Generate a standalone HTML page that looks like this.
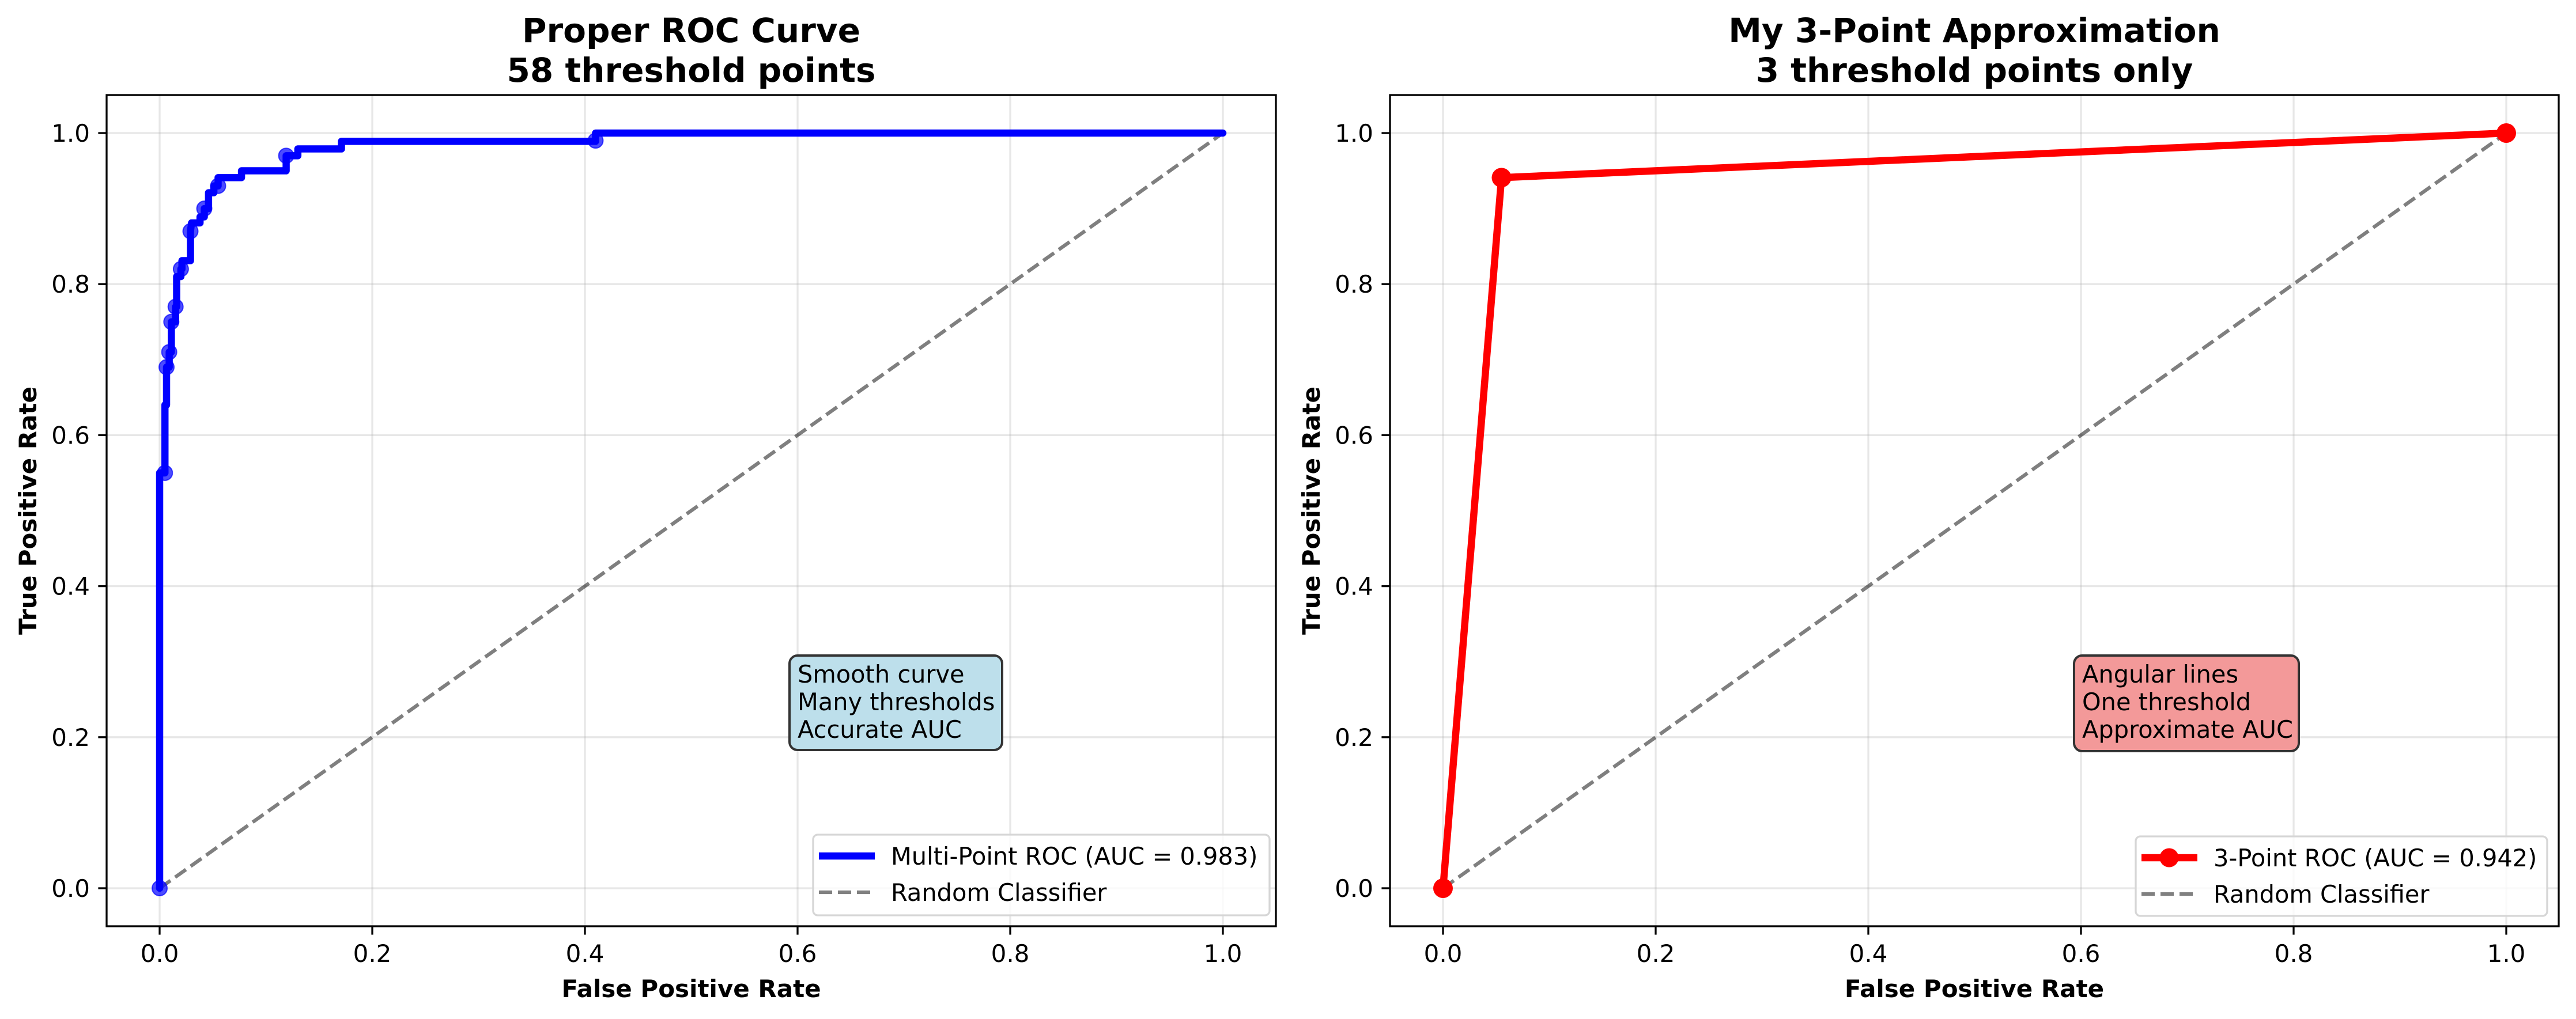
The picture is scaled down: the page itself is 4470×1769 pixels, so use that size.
<!DOCTYPE html>
<html><head><meta charset="utf-8">
<style>
html,body{margin:0;padding:0;background:#fff;}
svg{display:block;font-family:"DejaVu Sans","Liberation Sans",sans-serif;}
</style></head>
<body>
<svg id="fig" width="4470" height="1769" viewBox="0 0 4470 1769" xmlns="http://www.w3.org/2000/svg"></svg>
<script>
// ---- data ----
const xTicks = [0.0, 0.2, 0.4, 0.6, 0.8, 1.0];
const yTicks = [0.0, 0.2, 0.4, 0.6, 0.8, 1.0];
const tickLabels = ["0.0","0.2","0.4","0.6","0.8","1.0"];
const multiFpr = [0,0,0.005,0.005,0.0065,0.0065,0.009,0.009,0.011,0.011,0.015,0.015,0.016,0.016,0.020,0.020,0.021,0.021,0.029,0.029,0.030,0.038,0.038,0.042,0.042,0.046,0.046,0.051,0.051,0.055,0.055,0.077,0.077,0.119,0.119,0.130,0.130,0.171,0.171,0.41,0.41,1.0];
const multiTpr = [0,0.55,0.55,0.64,0.64,0.69,0.69,0.71,0.71,0.75,0.75,0.77,0.77,0.81,0.81,0.82,0.82,0.831,0.831,0.870,0.881,0.881,0.889,0.889,0.90,0.90,0.921,0.921,0.93,0.93,0.941,0.941,0.95,0.95,0.97,0.97,0.979,0.979,0.989,0.989,1.0,1.0];
const markFpr = [0,0.005,0.0065,0.009,0.011,0.015,0.020,0.029,0.042,0.055,0.119,0.41];
const markTpr = [0,0.55,0.69,0.71,0.75,0.77,0.82,0.87,0.90,0.93,0.97,0.99];
const threeFpr = [0, 0.055, 1.0];
const threeTpr = [0, 0.941, 1.0];
const randFpr = [0, 1];
const randTpr = [0, 1];

const NS = "http://www.w3.org/2000/svg";
const fig = document.getElementById('fig');
function mk(tag, attrs, parent) {
  const e = document.createElementNS(NS, tag);
  for (const k in attrs) e.setAttribute(k, attrs[k]);
  (parent || fig).appendChild(e);
  return e;
}
function makeAxes(left, right, top, bottom, x0, x1, y0, y1) {
  const sx = v => x0 + (x1 - x0) * v;
  const sy = v => y0 - (y0 - y1) * v;
  return {left, right, top, bottom, sx, sy};
}
const A = makeAxes(185, 2214, 165, 1608, 277, 2122, 1542, 231);
const B = makeAxes(2412, 4440, 165, 1608, 2504, 4349, 1542, 231);

function drawFrame(ax, name, title1, title2) {
  const g = mk('g', {});
  
  
  xTicks.forEach((v, i) => {
    const gl = mk('line', {x1: ax.sx(v), x2: ax.sx(v), y1: ax.top, y2: ax.bottom, stroke: '#b0b0b0', 'stroke-opacity': 0.3, 'stroke-width': 3.3}, g);
    
    
    mk('line', {x1: ax.sx(v), x2: ax.sx(v), y1: ax.bottom, y2: ax.bottom + 14.6, stroke: '#000', 'stroke-width': 3.3}, g);
    const t = mk('text', {x: ax.sx(v), y: ax.bottom + 62, 'font-size': 42, 'text-anchor': 'middle', fill: '#000'}, g);
    t.textContent = tickLabels[i];
    
    
  });
  yTicks.forEach((v, i) => {
    const gl = mk('line', {x1: ax.left, x2: ax.right, y1: ax.sy(v), y2: ax.sy(v), stroke: '#b0b0b0', 'stroke-opacity': 0.3, 'stroke-width': 3.3}, g);
    
    
    mk('line', {x1: ax.left - 14.6, x2: ax.left, y1: ax.sy(v), y2: ax.sy(v), stroke: '#000', 'stroke-width': 3.3}, g);
    const t = mk('text', {x: ax.left - 29, y: ax.sy(v) + 15, 'font-size': 42, 'text-anchor': 'end', fill: '#000'}, g);
    t.textContent = tickLabels[i];
    
    
  });
  const cx = (ax.left + ax.right) / 2;
  const t1 = mk('text', {x: cx, y: 73, 'font-size': 58, 'font-weight': 'bold', 'text-anchor': 'middle'}, g);
  t1.textContent = title1;
  
  
  const t2 = mk('text', {x: cx, y: 142, 'font-size': 58, 'font-weight': 'bold', 'text-anchor': 'middle'}, g);
  t2.textContent = title2;
  
  
  const xl = mk('text', {x: cx, y: 1731, 'font-size': 42, 'font-weight': 'bold', 'text-anchor': 'middle'}, g);
  xl.textContent = 'False Positive Rate';
  
  
  const yx = ax.left - 122, yy = (ax.top + ax.bottom) / 2;
  const yl = mk('text', {x: yx, y: yy, 'font-size': 42, 'font-weight': 'bold', 'text-anchor': 'middle', transform: `rotate(-90 ${yx} ${yy})`}, g);
  yl.textContent = 'True Positive Rate';
  
  
  return g;
}
function pts(ax, xs, ys) { return xs.map((x, i) => ax.sx(x) + ',' + ax.sy(ys[i])).join(' '); }
function drawRandom(ax) {
  const l = mk('polyline', {points: pts(ax, randFpr, randTpr), fill: 'none', stroke: '#000', 'stroke-opacity': 0.5, 'stroke-width': 6.25, 'stroke-dasharray': '23 10'});
  
  
}
function drawSpines(ax) {
  const r = mk('rect', {x: ax.left, y: ax.top, width: ax.right - ax.left, height: ax.bottom - ax.top, fill: 'none', stroke: '#000', 'stroke-width': 3.3});
  
  
}
function textBox(x, y, w, h, fill, lines, name) {
  const g = mk('g', {});
  
  
  mk('rect', {x, y, width: w, height: h, rx: 14, fill, stroke: '#333', 'stroke-width': 4}, g);
  lines.forEach((s, i) => {
    const t = mk('text', {x: x + 14, y: y + 47 + i * 48, 'font-size': 41.5, fill: '#000'}, g);
    t.textContent = s;
  });
}
function legend(x, y, w, h, entries, name) {
  const g = mk('g', {});
  
  
  mk('rect', {x, y, width: w, height: h, rx: 8, fill: '#fff', 'fill-opacity': 0.8, stroke: '#d6d6d6', 'stroke-width': 3.3}, g);
  entries.forEach((e, i) => {
    const cy = y + 37 + i * 63;
    if (e.type === 'dash') {
      mk('line', {x1: x + 10, x2: x + 107, y1: cy, y2: cy, stroke: '#808080', 'stroke-width': 6.25, 'stroke-dasharray': '23 10'}, g);
    } else {
      mk('line', {x1: x + 10, x2: x + 107, y1: cy, y2: cy, stroke: e.color, 'stroke-width': 12.5}, g);
      if (e.marker) mk('circle', {cx: x + 58, cy, r: 16.5, fill: e.color}, g);
    }
    const t = mk('text', {x: x + 135, y: cy + 15, 'font-size': 41.5, fill: '#000'}, g);
    t.textContent = e.label;
    
    
  });
}

// Left chart
drawFrame(A, 'left-axes', 'Proper ROC Curve', '58 threshold points');
drawRandom(A);
const ml = mk('polyline', {points: pts(A, multiFpr, multiTpr), fill: 'none', stroke: '#0000ff', 'stroke-width': 12.5, 'stroke-linejoin': 'round', 'stroke-linecap': 'round'});


markFpr.forEach((f, i) => {
  const c = mk('circle', {cx: A.sx(f), cy: A.sy(markTpr[i]), r: 13, fill: '#0000ff', 'fill-opacity': 0.7, stroke: '#0000ff', 'stroke-opacity': 0.7, 'stroke-width': 2});
  
  
});
drawSpines(A);
textBox(1370, 1138, 369, 164, '#bddfeb', ['Smooth curve', 'Many thresholds', 'Accurate AUC'], 'info-box-left');
legend(1411, 1449, 792, 140, [{type: 'line', color: '#0000ff', label: 'Multi-Point ROC (AUC = 0.983)'}, {type: 'dash', label: 'Random Classifier'}], 'legend-left');

// Right chart
drawFrame(B, 'right-axes', 'My 3-Point Approximation', '3 threshold points only');
drawRandom(B);
const tl = mk('polyline', {points: pts(B, threeFpr, threeTpr), fill: 'none', stroke: '#ff0000', 'stroke-width': 12.5, 'stroke-linejoin': 'round'});


threeFpr.forEach((f, i) => {
  const c = mk('circle', {cx: B.sx(f), cy: B.sy(threeTpr[i]), r: 17, fill: '#ff0000'});
  
  
});
drawSpines(B);
textBox(3599, 1138, 390, 166, '#f39999', ['Angular lines', 'One threshold', 'Approximate AUC'], 'info-box-right');
legend(3706, 1452, 714, 138, [{type: 'line', color: '#ff0000', marker: true, label: '3-Point ROC (AUC = 0.942)'}, {type: 'dash', label: 'Random Classifier'}], 'legend-right');
</script>
</body></html>
